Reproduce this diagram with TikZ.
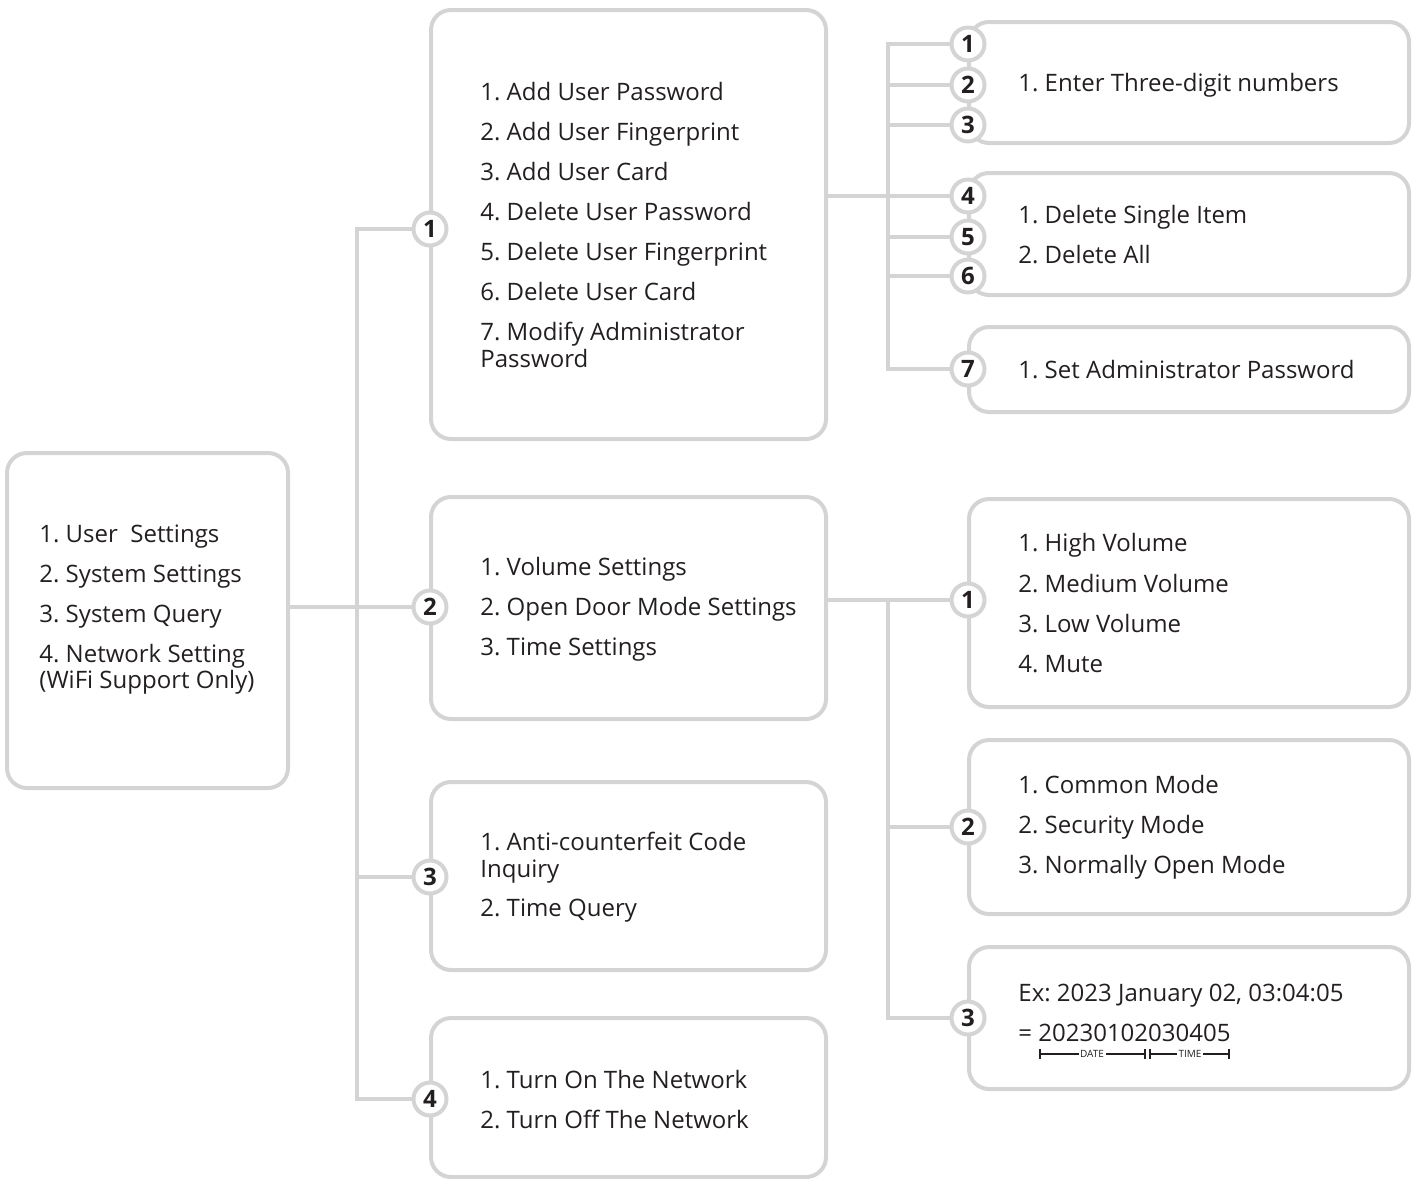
\documentclass[tikz,border=0pt]{standalone}
\usepackage{fontspec}
\setmainfont{Open Sans}
\frenchspacing
\definecolor{rule}{HTML}{D4D4D4}
\definecolor{ink}{HTML}{231F20}
\pgfdeclarelayer{wires}
\pgfsetlayers{wires,main}
\tikzset{
  panel/.style 2 args={draw=rule, line width=2pt, rounded corners=10pt,
    rectangle, anchor=north west, minimum width={#1*0.5pt},
    minimum height={#2*0.5pt}, inner sep=0pt, outer sep=0pt},
  badge/.style={circle, draw=rule, fill=white, line width=2pt,
    minimum size=16.5pt, inner sep=0pt, text=ink,
    font=\fontsize{12pt}{13pt}\selectfont\bfseries},
  wire/.style={draw=rule, line width=2pt},
  item/.style={anchor=base west, inner sep=0pt, text=ink,
    font=\fontsize{12pt}{14pt}\selectfont},
  mini/.style={inner sep=0.8pt, fill=white, text=ink,
    font=\fontsize{5pt}{5.5pt}\selectfont},
  span/.style={draw=ink, line width=1pt},
}
\begin{document}
\begin{tikzpicture}[x=0.5pt, y=-0.5pt]
\useasboundingbox (0,0) rectangle (1416,1178);

% main menu
\node[panel={281}{335}] (root) at (7,453) {};
\node[item] (r1) at (39,542) {1. User~ Settings};
\node[item] (r2) at (39,582) {2. System Settings};
\node[item] (r3) at (39,622) {3. System Query};
\node[item] (r4) at (39,662) {4. Network Setting};
\node[item] (r5) at (39,688) {(WiFi Support Only)};

% second level panels
\node[panel={395}{429}] (p1) at (431,10) {};
\node[panel={395}{222}] (p2) at (431,497) {};
\node[panel={395}{188}] (p3) at (431,782) {};
\node[panel={395}{159}] (p4) at (431,1018) {};

\node[item] (p1a) at (480,100) {1. Add User Password};
\node[item] (p1b) at (480,140) {2. Add User Fingerprint};
\node[item] (p1c) at (480,180) {3. Add User Card};
\node[item] (p1d) at (480,220) {4. Delete User Password};
\node[item] (p1e) at (480,260) {5. Delete User Fingerprint};
\node[item] (p1f) at (480,300) {6. Delete User Card};
\node[item] (p1g) at (480,340) {7. Modify Administrator};
\node[item] (p1h) at (480,367) {Password};

\node[item] (p2a) at (480,575) {1. Volume Settings};
\node[item] (p2b) at (480,615) {2. Open Door Mode Settings};
\node[item] (p2c) at (480,655) {3. Time Settings};

\node[item] (p3a) at (480,850) {1. Anti-counterfeit Code};
\node[item] (p3b) at (480,877) {Inquiry};
\node[item] (p3c) at (480,916) {2. Time Query};

\node[item] (p4a) at (480,1088) {1. Turn On The Network};
\node[item] (p4b) at (480,1128) {2. Turn Off The Network};

% third level panels
\node[panel={440}{121}] (q1) at (969,22) {};
\node[panel={440}{122}] (q2) at (969,173) {};
\node[panel={440}{85}] (q3) at (969,327) {};
\node[panel={440}{208}] (q4) at (969,499) {};
\node[panel={440}{174}] (q5) at (969,740) {};
\node[panel={440}{142}] (q6) at (969,947) {};

\node[item] (q1a) at (1018,91) {1. Enter Three-digit numbers};
\node[item] (q2a) at (1018,223) {1. Delete Single Item};
\node[item] (q2b) at (1018,263) {2. Delete All};
\node[item] (q3a) at (1018,378) {1. Set Administrator Password};
\node[item] (q4a) at (1018,551) {1. High Volume};
\node[item] (q4b) at (1018,592) {2. Medium Volume};
\node[item] (q4c) at (1018,632) {3. Low Volume};
\node[item] (q4d) at (1018,672) {4. Mute};
\node[item] (q5a) at (1018,793) {1. Common Mode};
\node[item] (q5b) at (1018,833) {2. Security Mode};
\node[item] (q5c) at (1018,873) {3. Normally Open Mode};
\node[item] (q6a) at (1018,1001) {Ex: 2023 January 02, 03:04:05};
\node[item] (q6b) at (1018,1041) {= 20230102030405};

% date / time spans under the example number
\draw[span] (1040,1049) -- (1040,1059);
\draw[span] (1040,1054) -- (1145,1054);
\draw[span] (1145,1049) -- (1145,1059);
\draw[span] (1150,1049) -- (1150,1059);
\draw[span] (1150,1054) -- (1229,1054);
\draw[span] (1229,1049) -- (1229,1059);
\node[mini] (dt) at (1092,1054) {DATE};
\node[mini] (tm) at (1190,1054) {TIME};

% badges on the panel edges
\node[badge] (c1) at (430,229) {1};
\node[badge] (c2) at (430,607) {2};
\node[badge] (c3) at (430,877) {3};
\node[badge] (c4) at (430,1099) {4};

\node[badge] (d1) at (968,44) {1};
\node[badge] (d2) at (968,85) {2};
\node[badge] (d3) at (968,125) {3};
\node[badge] (d4) at (968,196) {4};
\node[badge] (d5) at (968,237) {5};
\node[badge] (d6) at (968,276) {6};
\node[badge] (d7) at (968,369) {7};

\node[badge] (e1) at (968,600) {1};
\node[badge] (e2) at (968,827) {2};
\node[badge] (e3) at (968,1018) {3};

% connectors, kept beneath the badges
\begin{pgfonlayer}{wires}
\draw[wire] (root.east |- c2.west) -- (c2.west);
\draw[wire] (c1.west) -- ++(-55,0) |- (c4.west);
\draw[wire] (c3.west) -- ++(-55,0);

\draw[wire] (p1.east |- d4.west) -- (d4.west);
\draw[wire] (d1.west) -- ++(-62,0) |- (d7.west);
\foreach \b in {d2,d3,d5,d6} \draw[wire] (\b.west) -- ++(-62,0);

\draw[wire] (p2.east |- e1.west) -- (e1.west);
\draw[wire] (e3.west) -- ++(-62,0) |- (e1.west);
\draw[wire] (e2.west) -- ++(-62,0);
\end{pgfonlayer}
\end{tikzpicture}
\end{document}
